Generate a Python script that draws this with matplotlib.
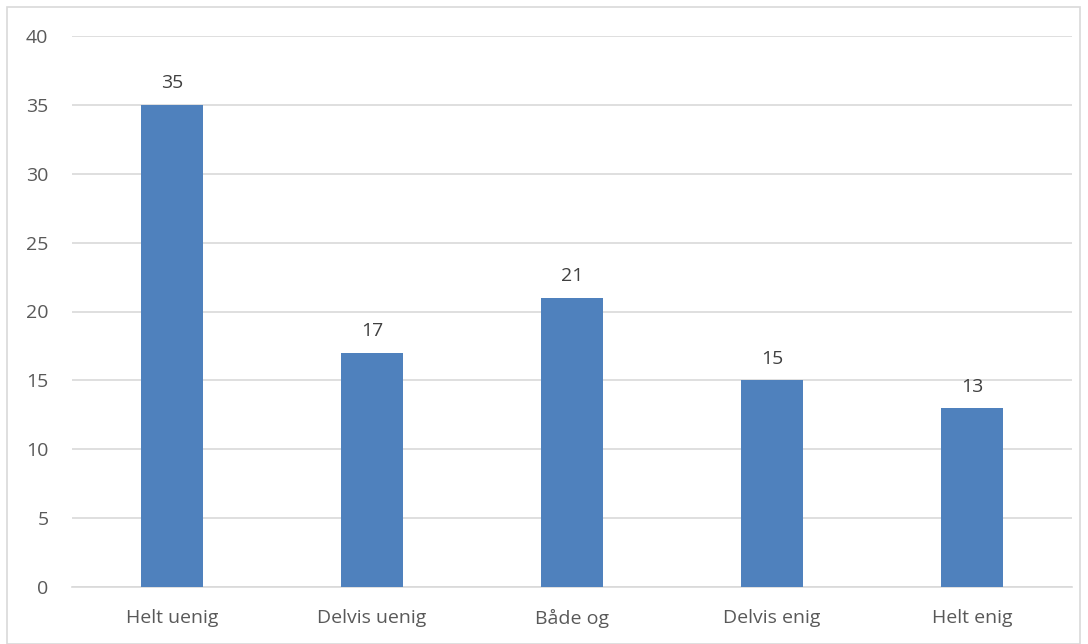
import matplotlib.pyplot as plt
from matplotlib.patches import Rectangle

categories = ["Helt uenig", "Delvis uenig", "Både og", "Delvis enig", "Helt enig"]
values = [35, 17, 21, 15, 13]
yticks = [0, 5, 10, 15, 20, 25, 30, 35, 40]

plt.rcParams['font.family'] = ['Open Sans', 'DejaVu Sans']
text_color = '#595959'

fig = plt.figure(figsize=(10.88, 6.44), dpi=100)
ax = fig.add_axes([72/1088, 1 - 587/644, 1000/1088, 551/644])

x = range(len(categories))
bars = ax.bar(x, values, width=0.31, color='#4F81BD', zorder=3)
for i, v in zip(x, values):
    ax.text(i, v + 0.9, str(v), ha='center', va='bottom', fontsize=14, color='#404040')

ax.set_xlim(-0.5, len(categories) - 0.5)
ax.set_ylim(0, 40)
ax.set_yticks(yticks)
ax.set_xticks(list(x))
ax.set_xticklabels(categories)
ax.grid(axis='y', color='#D9D9D9', linewidth=1.2, zorder=0)
for s in ['top', 'right', 'left']:
    ax.spines[s].set_visible(False)
ax.spines['bottom'].set_color('#D9D9D9')
ax.spines['bottom'].set_linewidth(1.2)
ax.tick_params(axis='both', length=0, labelsize=14, colors=text_color)
ax.tick_params(axis='y', pad=17)
ax.tick_params(axis='x', pad=16)

# chart frame
fig.patches.append(Rectangle((7/1088, 0), 1073/1088, 637/644, transform=fig.transFigure,
                             fill=False, edgecolor='#D9D9D9', linewidth=1.2))

fig.savefig('out.png', dpi=100)
